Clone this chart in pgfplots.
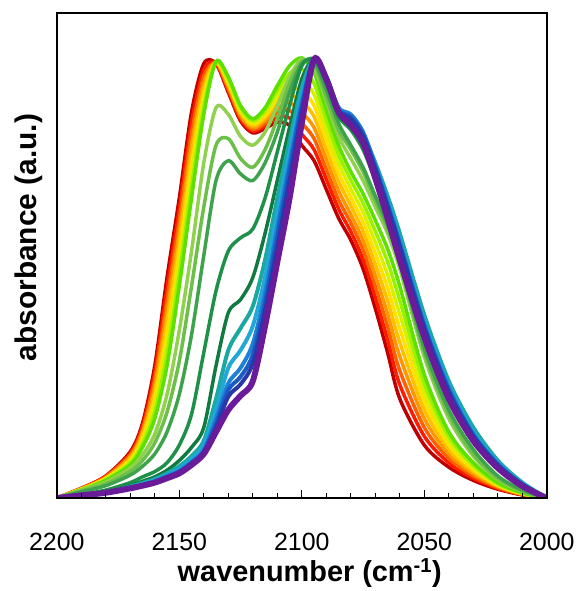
\documentclass[border=0pt]{standalone}
\usepackage{fontspec}
\setmainfont{Liberation Sans}
\usepackage{pgfplots}
\usepackage{pgfplotstable}
\pgfplotsset{compat=1.18}

% warm series (early spectra)
\definecolor{w0}{HTML}{C00000}
\definecolor{w1}{HTML}{FF1A00}
\definecolor{w2}{HTML}{FF6000}
\definecolor{w3}{HTML}{FF9500}
\definecolor{w4}{HTML}{FFC000}
\definecolor{w5}{HTML}{FFE000}
\definecolor{w6}{HTML}{D8F000}
\definecolor{w7}{HTML}{99F000}
\definecolor{w8}{HTML}{5CE000}
% cool series (late spectra)
\definecolor{c1}{HTML}{92D050}
\definecolor{c2}{HTML}{6CC04A}
\definecolor{c3}{HTML}{3FA34D}
\definecolor{d1}{HTML}{1E9048}
\definecolor{d2}{HTML}{107A40}
\definecolor{tl}{HTML}{1AA8A0}
\definecolor{cy}{HTML}{22A8D8}
\definecolor{b1}{HTML}{1E80D8}
\definecolor{b2}{HTML}{1A5CC4}
\definecolor{b3}{HTML}{2838A8}
\definecolor{pu}{HTML}{6A1B9A}

\pgfplotstableread{
wn   W0    W1    W2    W3    W4    W5    W6    W7    W8    C1    C2    C3    D1    D2    T     Cy    B1    B2    B3    P
2200 0     0     0     0     0     0     0     0     0     0     0     0     0     0     0     0     0     0     0     0
2190 0.022 0.022 0.021 0.021 0.020 0.020 0.019 0.019 0.018 0.018 0.016 0.014 0.008 0.006 0.006 0.006 0.006 0.006 0.006 0.006
2180 0.050 0.049 0.048 0.046 0.045 0.044 0.043 0.041 0.040 0.036 0.032 0.028 0.018 0.014 0.013 0.013 0.012 0.012 0.012 0.012
2170 0.105 0.101 0.098 0.094 0.090 0.086 0.083 0.079 0.075 0.068 0.060 0.052 0.035 0.028 0.026 0.025 0.024 0.023 0.023 0.022
2165 0.170 0.163 0.156 0.149 0.143 0.136 0.129 0.122 0.115 0.098 0.085 0.072 0.048 0.038 0.034 0.032 0.030 0.029 0.029 0.028
2160 0.300 0.285 0.270 0.255 0.240 0.225 0.210 0.195 0.180 0.145 0.125 0.100 0.060 0.048 0.043 0.040 0.038 0.037 0.036 0.035
2155 0.500 0.475 0.450 0.425 0.400 0.375 0.350 0.325 0.300 0.235 0.195 0.150 0.080 0.063 0.056 0.052 0.050 0.048 0.047 0.045
2150 0.680 0.655 0.630 0.605 0.580 0.555 0.530 0.505 0.480 0.380 0.310 0.235 0.120 0.085 0.072 0.066 0.062 0.060 0.058 0.056
2145 0.875 0.851 0.827 0.802 0.778 0.753 0.729 0.704 0.680 0.560 0.480 0.370 0.190 0.115 0.095 0.088 0.082 0.080 0.078 0.075
2140 0.985 0.971 0.956 0.942 0.928 0.913 0.899 0.884 0.870 0.760 0.660 0.550 0.330 0.160 0.130 0.120 0.110 0.105 0.103 0.100
2135 0.985 0.986 0.986 0.987 0.988 0.988 0.989 0.989 0.990 0.885 0.800 0.720 0.470 0.300 0.225 0.200 0.180 0.170 0.160 0.150
2130 0.920 0.924 0.929 0.933 0.938 0.942 0.946 0.951 0.955 0.870 0.815 0.765 0.560 0.420 0.335 0.295 0.260 0.245 0.230 0.200
2125 0.855 0.859 0.864 0.868 0.873 0.877 0.881 0.886 0.890 0.820 0.770 0.735 0.590 0.450 0.385 0.335 0.295 0.275 0.258 0.232
2120 0.828 0.832 0.836 0.840 0.844 0.848 0.852 0.856 0.860 0.800 0.750 0.720 0.610 0.500 0.435 0.390 0.350 0.325 0.305 0.265
2115 0.838 0.844 0.850 0.856 0.862 0.867 0.873 0.879 0.885 0.830 0.790 0.760 0.680 0.600 0.540 0.500 0.465 0.445 0.425 0.390
2110 0.852 0.862 0.873 0.883 0.894 0.904 0.914 0.925 0.935 0.890 0.860 0.830 0.785 0.720 0.680 0.645 0.615 0.595 0.570 0.535
2105 0.845 0.862 0.879 0.896 0.913 0.929 0.946 0.963 0.980 0.955 0.940 0.920 0.890 0.840 0.810 0.785 0.760 0.745 0.720 0.680
2100 0.800 0.825 0.850 0.874 0.899 0.924 0.949 0.973 0.998 0.995 0.990 0.985 0.980 0.950 0.930 0.915 0.900 0.890 0.875 0.850
2095 0.765 0.790 0.815 0.840 0.865 0.890 0.915 0.940 0.965 0.975 0.985 0.990 0.995 0.995 0.995 0.995 0.995 0.995 0.995 0.995
2090 0.700 0.723 0.745 0.768 0.790 0.813 0.835 0.858 0.880 0.900 0.910 0.925 0.940 0.950 0.955 0.955 0.955 0.955 0.952 0.950
2085 0.635 0.656 0.676 0.697 0.718 0.738 0.759 0.779 0.800 0.820 0.835 0.850 0.865 0.875 0.885 0.885 0.885 0.880 0.878 0.875
2080 0.585 0.604 0.624 0.643 0.663 0.682 0.701 0.721 0.740 0.770 0.790 0.800 0.835 0.850 0.865 0.865 0.870 0.865 0.860 0.845
2075 0.520 0.541 0.563 0.584 0.605 0.626 0.648 0.669 0.690 0.720 0.740 0.750 0.790 0.805 0.825 0.825 0.830 0.825 0.820 0.805
2070 0.430 0.455 0.480 0.505 0.530 0.555 0.580 0.605 0.630 0.660 0.675 0.685 0.720 0.730 0.760 0.755 0.755 0.750 0.745 0.725
2065 0.330 0.359 0.389 0.418 0.448 0.477 0.506 0.536 0.565 0.600 0.610 0.620 0.640 0.650 0.685 0.675 0.670 0.665 0.660 0.635
2060 0.225 0.257 0.289 0.321 0.353 0.384 0.416 0.448 0.480 0.520 0.530 0.535 0.555 0.560 0.600 0.585 0.580 0.575 0.570 0.540
2050 0.120 0.140 0.160 0.180 0.200 0.220 0.240 0.260 0.280 0.320 0.330 0.340 0.375 0.380 0.415 0.400 0.395 0.390 0.385 0.365
2040 0.070 0.080 0.090 0.100 0.110 0.120 0.130 0.140 0.150 0.180 0.190 0.200 0.235 0.240 0.265 0.255 0.250 0.245 0.240 0.225
2030 0.040 0.045 0.050 0.055 0.060 0.065 0.070 0.075 0.080 0.095 0.100 0.110 0.140 0.140 0.160 0.150 0.145 0.143 0.140 0.130
2020 0.020 0.022 0.024 0.026 0.028 0.029 0.031 0.033 0.035 0.042 0.045 0.050 0.075 0.075 0.085 0.080 0.078 0.076 0.074 0.068
2010 0.007 0.008 0.008 0.009 0.010 0.010 0.011 0.011 0.012 0.015 0.016 0.018 0.030 0.030 0.035 0.033 0.032 0.031 0.030 0.027
2000 0     0     0     0     0     0     0     0     0     0     0     0     0     0     0     0     0     0     0     0
}\spectra

\begin{document}
\begin{tikzpicture}
\begin{axis}[
    scale only axis,
    width=492pt, height=487pt,
    x dir=reverse,
    xmin=2000, xmax=2200,
    ymin=0, ymax=1.1,
    xtick={2000,2050,...,2200},
    minor x tick num=4,
    ytick=\empty,
    xtick pos=bottom,
    tick align=inside,
    axis on top,
    major tick length=8pt,
    minor tick length=5pt,
    every tick/.style={black, line width=1.2pt},
    axis line style={line width=2pt},
    tick label style={font=\fontsize{25}{30}\selectfont},
    /pgf/number format/assume math mode=true,
    /pgf/number format/set thousands separator={},
    xticklabel style={yshift=-32pt},
    xlabel={wavenumber (cm\textsuperscript{-1})},
    ylabel={absorbance (a.u.)},
    every axis x label/.style={at={(axis description cs:0.5,0)}, anchor=base, xshift=8pt, yshift=-84pt,
        font=\bfseries\fontsize{29}{35}\selectfont},
    every axis y label/.style={at={(axis description cs:0,0.5)}, xshift=-20pt, yshift=18pt,
        rotate=90, anchor=base, font=\bfseries\fontsize{30}{36}\selectfont},
    every axis plot/.append style={smooth, no markers},
]
\addplot[color=w0, line width=3.5pt] table[x=wn, y=W0] {\spectra};
\addplot[color=w1, line width=3.5pt] table[x=wn, y=W1] {\spectra};
\addplot[color=w2, line width=3.5pt] table[x=wn, y=W2] {\spectra};
\addplot[color=w3, line width=3.5pt] table[x=wn, y=W3] {\spectra};
\addplot[color=w4, line width=3.5pt] table[x=wn, y=W4] {\spectra};
\addplot[color=w5, line width=3.5pt] table[x=wn, y=W5] {\spectra};
\addplot[color=w6, line width=3.5pt] table[x=wn, y=W6] {\spectra};
\addplot[color=w7, line width=3.5pt] table[x=wn, y=W7] {\spectra};
\addplot[color=w8, line width=3.5pt] table[x=wn, y=W8] {\spectra};
\addplot[color=c1, line width=3.5pt] table[x=wn, y=C1] {\spectra};
\addplot[color=c2, line width=3.5pt] table[x=wn, y=C2] {\spectra};
\addplot[color=c3, line width=3.5pt] table[x=wn, y=C3] {\spectra};
\addplot[color=d1, line width=3.5pt] table[x=wn, y=D1] {\spectra};
\addplot[color=d2, line width=3.5pt] table[x=wn, y=D2] {\spectra};
\addplot[color=tl, line width=4pt] table[x=wn, y=T] {\spectra};
\addplot[color=cy, line width=4pt] table[x=wn, y=Cy] {\spectra};
\addplot[color=b1, line width=4pt] table[x=wn, y=B1] {\spectra};
\addplot[color=b2, line width=4pt] table[x=wn, y=B2] {\spectra};
\addplot[color=b3, line width=4pt] table[x=wn, y=B3] {\spectra};
\addplot[color=pu, line width=6pt] table[x=wn, y=P] {\spectra};
\end{axis}
\path (current axis.south west) ++(-57pt,-91pt) rectangle ([shift={(32pt,13pt)}]current axis.north east);
\end{tikzpicture}
\end{document}
